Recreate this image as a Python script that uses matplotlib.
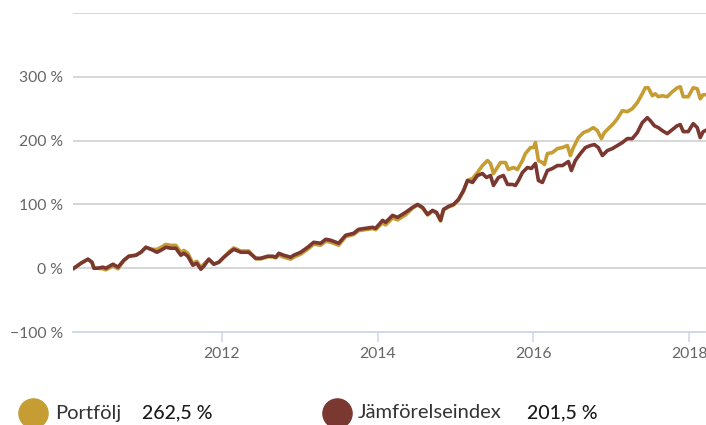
import matplotlib.pyplot as plt
from matplotlib.lines import Line2D

plt.rcParams['font.family'] = ['Lato', 'DejaVu Sans']

# Cumulative return in percent, dates as decimal years
index_dates = [
    2010.103, 2010.192, 2010.282, 2010.333, 2010.359, 2010.410, 2010.474, 2010.513,
    2010.603, 2010.667, 2010.744, 2010.808, 2010.897, 2010.962, 2011.026, 2011.090,
    2011.167, 2011.218, 2011.282, 2011.346, 2011.410, 2011.474, 2011.513, 2011.564,
    2011.628, 2011.679, 2011.731, 2011.769, 2011.833, 2011.897, 2011.962, 2012.026,
    2012.103, 2012.154, 2012.244, 2012.346, 2012.436, 2012.500, 2012.590, 2012.654,
    2012.692, 2012.731, 2012.795, 2012.885, 2012.923, 2013.013, 2013.103, 2013.179,
    2013.269, 2013.333, 2013.397, 2013.500, 2013.590, 2013.692, 2013.756, 2013.846,
    2013.936, 2013.974, 2014.064, 2014.103, 2014.192, 2014.256, 2014.359, 2014.449,
    2014.513, 2014.577, 2014.641, 2014.705, 2014.756, 2014.808, 2014.846, 2014.910,
    2014.974, 2015.038, 2015.103, 2015.154, 2015.218, 2015.282, 2015.346, 2015.397,
    2015.449, 2015.487, 2015.551, 2015.615, 2015.667, 2015.731, 2015.769, 2015.808,
    2015.859, 2015.923, 2015.974, 2016.026, 2016.064, 2016.115, 2016.179, 2016.244,
    2016.308, 2016.372, 2016.410, 2016.449, 2016.487, 2016.538, 2016.603, 2016.667,
    2016.731, 2016.782, 2016.833, 2016.885, 2016.949, 2017.013, 2017.077, 2017.141,
    2017.205, 2017.269, 2017.333, 2017.397, 2017.462, 2017.500, 2017.551, 2017.603,
    2017.654, 2017.718, 2017.782, 2017.846, 2017.885, 2017.923, 2017.987, 2018.051,
    2018.103, 2018.141, 2018.179, 2018.205,
]
index_values = [
    0.0, 7.8, 14.1, 9.4, 0.0, 0.0, 1.6, 0.0,
    6.3, 1.6, 12.5, 18.8, 20.3, 25.0, 32.8, 29.7,
    25.0, 28.1, 32.8, 31.3, 31.3, 20.3, 23.4, 18.8,
    4.7, 7.8, -1.6, 3.1, 14.1, 6.3, 9.4, 17.2,
    25.0, 29.7, 25.0, 25.0, 15.6, 15.6, 18.8, 18.8,
    17.2, 23.4, 20.3, 17.2, 20.3, 25.0, 32.8, 40.6,
    39.1, 45.3, 43.8, 39.1, 51.6, 54.7, 60.9, 62.5,
    64.1, 62.5, 75.0, 71.9, 82.8, 79.7, 87.5, 95.3,
    100.0, 95.3, 84.4, 90.6, 87.5, 75.0, 92.2, 96.9,
    100.0, 107.8, 121.9, 137.5, 134.4, 145.3, 148.4, 142.2,
    145.3, 129.7, 142.2, 145.3, 131.3, 131.3, 129.7, 137.5,
    150.0, 157.8, 156.3, 164.1, 137.5, 134.4, 153.1, 156.3,
    160.9, 160.9, 164.1, 167.2, 153.1, 168.8, 179.7, 189.1,
    192.2, 193.8, 189.1, 176.6, 184.4, 187.5, 192.2, 196.9,
    203.1, 203.1, 212.5, 228.1, 235.9, 231.3, 223.4, 220.3,
    215.6, 210.9, 217.2, 223.4, 225.0, 214.1, 214.1, 226.6,
    220.3, 204.7, 214.1, 215.6,
]

portfolio_dates = [
    2010.103, 2010.192, 2010.282, 2010.333, 2010.359, 2010.410, 2010.474, 2010.513,
    2010.603, 2010.667, 2010.744, 2010.808, 2010.897, 2010.962, 2011.026, 2011.090,
    2011.167, 2011.218, 2011.282, 2011.346, 2011.410, 2011.474, 2011.513, 2011.564,
    2011.628, 2011.679, 2011.731, 2011.769, 2011.833, 2011.897, 2011.962, 2012.026,
    2012.103, 2012.154, 2012.244, 2012.346, 2012.436, 2012.500, 2012.590, 2012.654,
    2012.692, 2012.731, 2012.795, 2012.885, 2012.923, 2013.013, 2013.103, 2013.179,
    2013.269, 2013.333, 2013.397, 2013.500, 2013.590, 2013.692, 2013.756, 2013.846,
    2013.936, 2013.974, 2014.064, 2014.103, 2014.192, 2014.256, 2014.359, 2014.449,
    2014.513, 2014.577, 2014.641, 2014.705, 2014.756, 2014.808, 2014.846, 2014.910,
    2014.974, 2015.038, 2015.103, 2015.154, 2015.218, 2015.282, 2015.346, 2015.410,
    2015.449, 2015.487, 2015.577, 2015.641, 2015.679, 2015.744, 2015.795, 2015.859,
    2015.897, 2015.962, 2016.000, 2016.026, 2016.064, 2016.115, 2016.141, 2016.179,
    2016.244, 2016.308, 2016.372, 2016.436, 2016.474, 2016.513, 2016.577, 2016.641,
    2016.705, 2016.769, 2016.821, 2016.872, 2016.910, 2016.962, 2017.026, 2017.077,
    2017.141, 2017.205, 2017.269, 2017.333, 2017.397, 2017.436, 2017.474, 2017.526,
    2017.564, 2017.603, 2017.654, 2017.718, 2017.782, 2017.846, 2017.885, 2017.923,
    2017.987, 2018.051, 2018.103, 2018.141, 2018.179, 2018.205,
]
portfolio_values = [
    0.0, 7.8, 14.1, 9.4, 0.0, 0.0, -0.9, -2.5,
    3.8, -0.9, 12.5, 18.8, 20.3, 25.0, 32.8, 29.7,
    29.5, 32.6, 37.3, 35.8, 35.8, 24.8, 27.9, 23.3,
    7.7, 10.8, 1.4, 6.1, 14.1, 6.3, 9.4, 17.2,
    27.0, 31.7, 27.0, 27.0, 14.6, 14.6, 17.8, 17.8,
    16.2, 20.4, 17.3, 14.2, 17.3, 22.0, 29.8, 37.6,
    36.1, 42.3, 40.8, 36.1, 49.6, 52.7, 58.9, 60.5,
    62.1, 60.5, 71.0, 67.9, 78.8, 75.7, 83.5, 94.3,
    99.0, 94.3, 83.4, 89.6, 86.5, 74.0, 91.2, 95.9,
    99.0, 106.8, 120.9, 137.5, 140.6, 150.0, 160.9, 168.8,
    164.1, 148.4, 165.6, 165.6, 154.7, 157.8, 154.7, 168.8,
    179.7, 189.1, 189.1, 196.9, 168.8, 165.6, 162.5, 179.7,
    181.3, 187.5, 189.1, 192.2, 176.6, 189.1, 204.7, 212.5,
    215.6, 220.3, 215.6, 203.1, 212.5, 218.8, 226.6, 234.4,
    246.9, 245.3, 250.0, 259.4, 273.4, 282.8, 282.8, 270.3,
    273.4, 268.8, 270.3, 268.8, 276.6, 282.8, 284.4, 268.8,
    268.8, 282.8, 281.3, 265.6, 271.9, 271.9,
]

series_names = ['Portfölj', 'Jämförelseindex']
series_totals = ['262,5 %', '201,5 %']
y_ticks = [-100, 0, 100, 200, 300, 400]
x_ticks = [2012, 2014, 2016, 2018]

gold = '#c59d33'
brown = '#7a3831'
grid_col = '#cccccc'
axis_col = '#ccd6eb'
label_col = '#666666'

W, H = 706, 425
fig = plt.figure(figsize=(W / 100, H / 100), dpi=100)
ax = fig.add_axes([73 / W, 1 - 332 / H, (W - 73) / W, (332 - 13) / H])

ax.plot(portfolio_dates, portfolio_values, color=gold, lw=2.6, solid_joinstyle='round', zorder=3)
ax.plot(index_dates, index_values, color=brown, lw=2.6, solid_joinstyle='round', zorder=4)

ax.set_xlim(2010.09, 2018.215)
ax.set_ylim(-100, 400)

for v in y_ticks[1:]:
    ax.axhline(v, color=grid_col, lw=1.1, zorder=1)
ax.axhline(-100, color=axis_col, lw=1.3, zorder=2, clip_on=False)

ax.set_yticks(y_ticks)
ax.set_yticklabels([('\u2212' if v < 0 else '') + f'{abs(v)} %' if v < 400 else '' for v in y_ticks])
ax.set_xticks(x_ticks)
ax.set_xticklabels([str(x) for x in x_ticks])
ax.tick_params(axis='y', length=0, pad=7, labelsize=11.3, labelcolor=label_col)
ax.tick_params(axis='x', length=7, width=1.1, color=axis_col, pad=4,
               labelsize=11.3, labelcolor=label_col)
for s in ax.spines.values():
    s.set_visible(False)

# legend row along the bottom
marker_x = [33, 337]
name_x = [55, 358]
total_x = [142, 527]
for col, mx, nx, tx, name, total in zip([gold, brown], marker_x, name_x, total_x,
                                        series_names, series_totals):
    fig.add_artist(Line2D([mx / W], [1 - 413 / H], marker='o', markersize=21,
                          color=col, transform=fig.transFigure))
    fig.text(nx / W, 1 - 413 / H, name, fontsize=14.5, color='#333333', va='center')
    fig.text(tx / W, 1 - 413 / H, total, fontsize=14, color='#1a1a1a', va='center',
             fontweight='medium')

plt.savefig('out.png', dpi=100)
plt.close()
